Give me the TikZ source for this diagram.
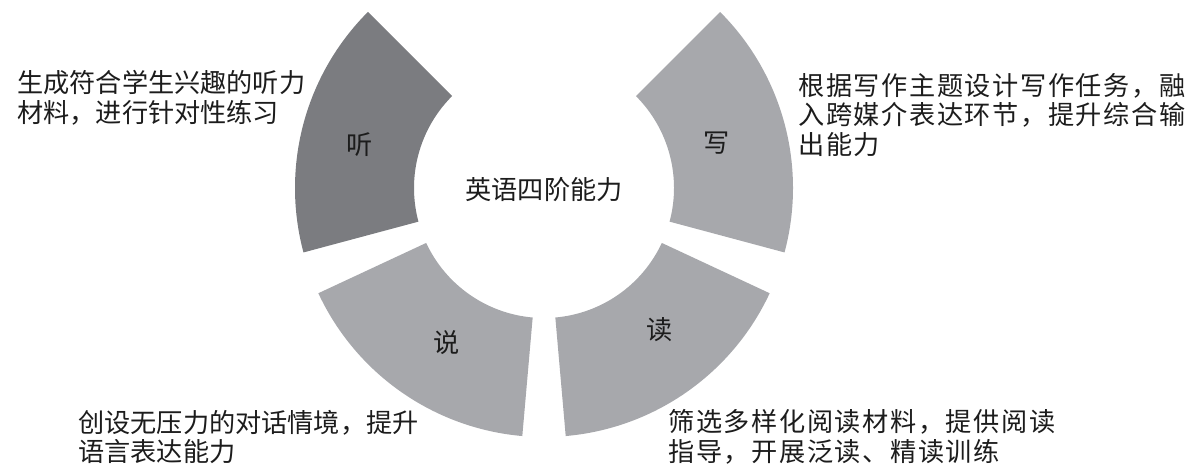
\documentclass[tikz,border=0pt]{standalone}
\usepackage{fontspec}
\newfontfamily\cjk{Noto Sans CJK SC}
\newfontfamily\cjkwide[LetterSpace=6]{Noto Sans CJK SC}
\usepackage{tikz}
\usetikzlibrary{positioning}
\definecolor{segdark}{RGB}{123,124,128}
\definecolor{seglight}{RGB}{167,168,172}
\definecolor{inktext}{RGB}{28,28,28}
\tikzset{
  seglbl/.style={font=\cjk\fontsize{14.9pt}{17pt}\selectfont, text=inktext, inner sep=0pt},
  note/.style={font=\cjk\fontsize{14.9pt}{17pt}\selectfont, text=inktext, align=left, anchor=west, inner sep=0pt},
  wide note/.style={note, font=\cjkwide\fontsize{14.9pt}{17pt}\selectfont}
}
\begin{document}
\begin{tikzpicture}[x=0.02cm, y=0.02cm,
    % ring of four parts
    rin/.store in=\rin, rin=130,
    rout/.store in=\rout, rout=249
]
\useasboundingbox (0,0) rectangle (1197,474);

% --- Ring segments ---
\coordinate (O) at (544,286);
\begin{scope}[shift={(O)}]
\foreach \a/\b/\c in {-15/45/seglight, 135/195/segdark, 205/265/seglight, 275/335/seglight} {
    \fill[\c] (\a:\rout) arc[start angle=\a, end angle=\b, radius=\rout]
        -- (\b:\rin) arc[start angle=\b, end angle=\a, radius=\rin] -- cycle;
}
\end{scope}

% --- Labels in the ring ---
\node[seglbl] (core) at (544,284) {英语四阶能力};
\node[seglbl] (listen) at (360,329) {听};
\node[seglbl] (write) at (717,331) {写};
\node[seglbl] (speak) at (447,131) {说};
\node[seglbl] (read) at (660,144) {读};

% --- Notes ---
\node[note] (listenNote) at (17,376) {生成符合学生兴趣的听力\\材料，进行针对性练习};
\node[wide note] (writeNote) at (798,359) {根据写作主题设计写作任务，融\\入跨媒介表达环节，提升综合输\\出能力};
\node[note] (speakNote) at (78,37) {创设无压力的对话情境，提升\\语言表达能力};
\node[wide note] (readNote) at (668,37) {筛选多样化阅读材料，提供阅读\\指导，开展泛读、精读训练};

\end{tikzpicture}
\end{document}
